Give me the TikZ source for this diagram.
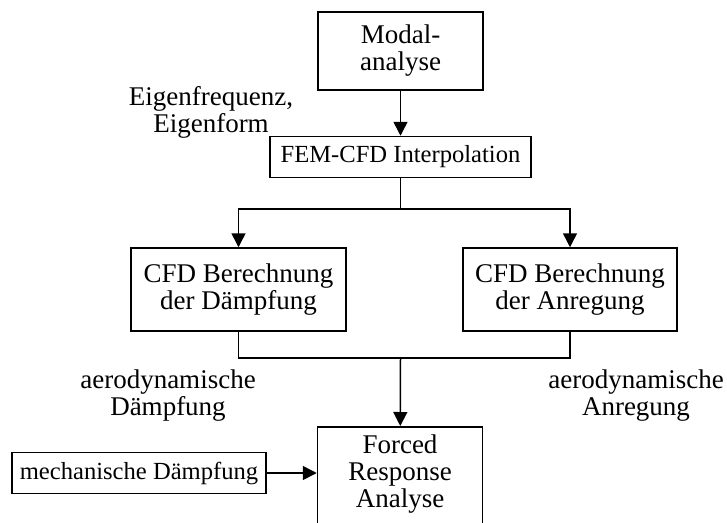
\documentclass[tikz,border=0pt]{standalone}
\usepackage{fontspec}
\setmainfont{Liberation Serif}
\usetikzlibrary{arrows.meta}
\tikzset{
	box/.style={draw, line width=1.5pt, align=center, inner sep=0pt},
	txt/.style={align=center, inner sep=0pt},
	small/.style={font=\fontsize{24.6}{26}\selectfont},
	arr/.style={-{Triangle[length=14pt,width=14pt]}},
}
\begin{document}
\begin{tikzpicture}[x=1pt,y=-1pt,line width=1.5pt,font=\fontsize{27}{27}\selectfont]
		\useasboundingbox (0,0) rectangle (727,522);
		\node[box, minimum width=165, minimum height=78] (modal) at (400.5,51) {Modal-\\analyse};
		\node[box, small, minimum width=261, minimum height=41] (fem) at (400.5,157) {FEM-CFD Interpolation};
		\node[box, minimum width=215, minimum height=83] (cfdd) at (238.5,289.5) {CFD Berechnung\\der D\"ampfung};
		\node[box, minimum width=214, minimum height=83] (cfda) at (570,289.5) {CFD Berechnung\\der Anregung};
		\node[box, minimum width=165, minimum height=140, anchor=north] (forced) at (400,426) {};
		\node[txt] (forcedtxt) at (400,474) {Forced\\Response\\Analyse};
		\node[box, small, minimum width=254, minimum height=41] (mech) at (139,473) {mechanische D\"ampfung};
		\node[txt] (eig) at (211,112) {Eigenfrequenz,\\Eigenform};
		\node[txt] (aerod) at (168,396) {aerodynamische\\D\"ampfung};
		\node[txt] (aeroa) at (636,396) {aerodynamische\\Anregung};
		\coordinate (split) at (400.5,209);
		\coordinate (merge) at (400.5,358);
		\draw[arr] (modal) -- (fem);
		\draw (fem) -- (split);
		\draw[arr] (split) -| (cfdd);
		\draw[arr] (split) -| (cfda);
		\draw (cfdd) |- (merge) -| (cfda);
		\draw[arr] (merge) -- (forced);
		\draw[arr] (mech) -- (mech.east -| forced.west);
	\end{tikzpicture}
\end{document}
